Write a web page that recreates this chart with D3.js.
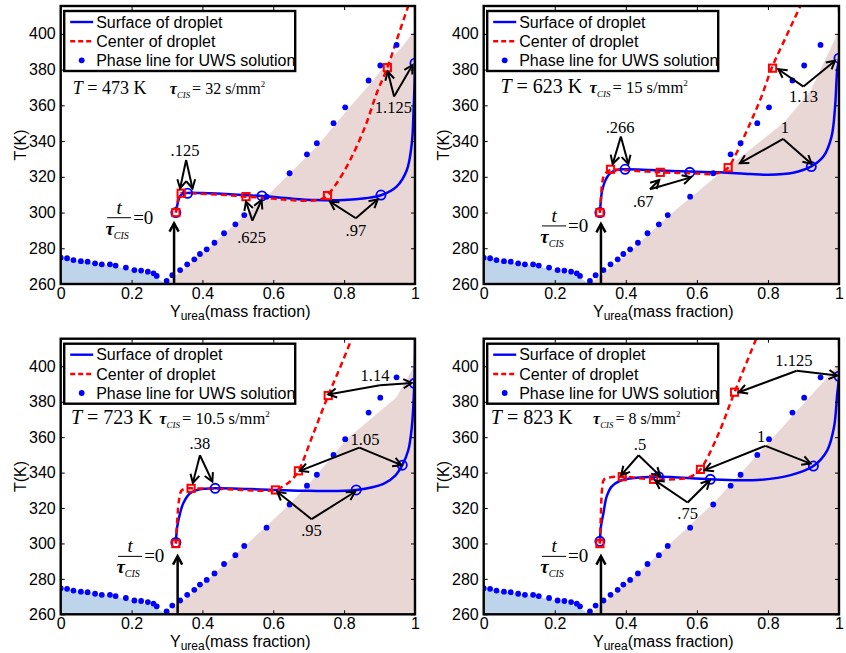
<!DOCTYPE html>
<html>
<head>
<meta charset="utf-8">
<script src="https://cdn.jsdelivr.net/npm/d3@7"></script>
<style>
  body { margin: 0; background: #fff; }
  .sans { font-family: "Liberation Sans", Arial, Helvetica, sans-serif; }
  .serif { font-family: "Liberation Serif", "Times New Roman", serif; }
</style>
</head>
<body>
<svg id="chart" width="846" height="653"></svg>
<script>
// ---------------- Data ----------------
// Phase line of the urea–water solution (same in every case)
const phaseLeftY  = [0, 0.018, 0.036, 0.057, 0.076, 0.097, 0.116, 0.139, 0.155, 0.184, 0.208, 0.227, 0.246, 0.262, 0.271, 0.299];
const phaseLeftT  = [274.7, 274.4, 273.4, 272.8, 272.5, 271.6, 271.0, 271.0, 270.3, 269.2, 267.8, 267.5, 266.9, 266.0, 264.5, 261.7];
const phaseRightY = [0.315, 0.337, 0.357, 0.377, 0.393, 0.412, 0.434, 0.461, 0.493, 0.518, 0.581, 0.646, 0.695, 0.723, 0.770, 0.803, 0.869, 0.902, 0.948];
const phaseRightT = [264.9, 267.8, 271.0, 273.8, 276.8, 279.4, 283.1, 288.4, 293.4, 298.6, 308.9, 322.0, 332.6, 338.8, 350.0, 358.9, 373.9, 382.3, 393.8];

// Ice region (lower left) boundary
const iceY = [0, 0.05, 0.10, 0.15, 0.20, 0.25, 0.28, 0.30];
const iceT = [274.3, 273.0, 271.4, 270.0, 268.0, 265.3, 262.3, 260];

// Solid urea region boundary for each gas temperature
const solid473Y = [0.30, 0.315, 0.357, 0.412, 0.461, 0.518, 0.591, 0.647, 0.723, 0.807, 0.873, 0.92, 0.96, 1.0];
const solid473T = [260, 263, 270, 279, 288, 298, 311, 322, 337, 357, 372, 383.6, 392, 402];
const solid623Y = [0.30, 0.40, 0.52, 0.665, 0.843, 0.92, 1.0];
const solid623T = [260, 276, 298, 322, 350, 368, 402];
const solid723Y = [0.30, 0.40, 0.52, 0.646, 0.723, 0.807, 0.948, 1.0];
const solid723T = [260, 276.8, 298.6, 322, 338.8, 358.8, 382.6, 401];
const solid823Y = [0.30, 0.40, 0.525, 0.647, 0.769, 1.0];
const solid823T = [260, 276.8, 300, 322.7, 349.8, 401];

// Droplet surface / centre temperature paths
const surface473Y = [0.325, 0.329, 0.335, 0.343, 0.358, 0.40, 0.50, 0.568, 0.65, 0.72, 0.80, 0.86, 0.906, 0.948, 0.977, 0.991, 0.996, 1.0, 1.0];
const surface473T = [300, 304, 308.5, 310.5, 311, 310.9, 310, 309.2, 307.8, 307, 307, 308, 309.8, 314.5, 323.8, 338.8, 357.4, 383.6, 418];
const center473Y  = [0.325, 0.329, 0.333, 0.34, 0.36, 0.45, 0.523, 0.60, 0.647, 0.70, 0.735, 0.753, 0.779, 0.817, 0.859, 0.892, 0.922, 0.95, 0.985];
const center473T  = [300, 305, 309, 310.8, 310.8, 310, 308.9, 307.8, 307, 306.6, 307.5, 309.8, 316.4, 329.4, 348, 366.8, 381.1, 397.5, 418];

const surface623Y = [0.327, 0.329, 0.332, 0.337, 0.341, 0.348, 0.356, 0.374, 0.398, 0.47, 0.58, 0.665, 0.75, 0.80, 0.871, 0.921, 0.956, 0.979, 0.989, 0.995, 1.0, 1.0];
const surface623T = [300, 305, 310.8, 315, 317.3, 320, 322, 323.8, 324.2, 323.8, 322.9, 322.5, 321.5, 321.2, 322.3, 325.7, 331.3, 342.5, 359.3, 379.8, 386.4, 418];
const center623Y  = [0.327, 0.329, 0.331, 0.334, 0.341, 0.357, 0.40, 0.497, 0.58, 0.647, 0.671, 0.688, 0.707, 0.75, 0.78, 0.811, 0.85, 0.897];
const center623T  = [300, 305, 311, 317.3, 321.6, 323.8, 323.6, 322.5, 322, 321.6, 322.9, 325.1, 331.5, 350, 364, 381, 398, 418];

const surface723Y = [0.325, 0.329, 0.337, 0.346, 0.365, 0.393, 0.436, 0.52, 0.606, 0.70, 0.834, 0.911, 0.945, 0.964, 0.981, 0.991, 0.998, 1.0];
const surface723T = [300.2, 309.6, 317.1, 322.7, 328.3, 330.6, 331.1, 330.8, 330.2, 329.7, 330.2, 333.6, 338.5, 344.2, 352.6, 365.7, 390.4, 418];
const center723Y  = [0.325, 0.329, 0.334, 0.341, 0.356, 0.368, 0.45, 0.606, 0.628, 0.647, 0.671, 0.713, 0.755, 0.79, 0.826];
const center723T  = [299.9, 313.3, 324.6, 329.8, 331.1, 331.1, 330.8, 330.2, 332.4, 334.9, 341, 362, 383.5, 400, 418];

const surface823Y = [0.327, 0.330, 0.337, 0.346, 0.360, 0.384, 0.412, 0.492, 0.638, 0.77, 0.864, 0.928, 0.967, 0.986, 0.995, 1.0, 1.0];
const surface823T = [300.2, 309.6, 317.1, 326.4, 332.1, 335.4, 336.7, 337.7, 336.2, 335.8, 338.6, 343.7, 352.6, 365.7, 384.5, 394.4, 418];
const center823Y  = [0.327, 0.330, 0.333, 0.339, 0.356, 0.39, 0.478, 0.563, 0.591, 0.61, 0.657, 0.706, 0.772];
const center823T  = [299.9, 317.1, 330.2, 336.2, 337.3, 337.7, 336.2, 336.7, 338.6, 341.8, 360.1, 385.4, 418];

// State at the labelled instants t/tau_CIS (circles: surface, squares: centre)
const surfMark473 = [[0.325, 300], [0.358, 310.8], [0.568, 309.3], [0.904, 309.8], [1.0, 383.6]];
const centMark473 = [[0.325, 300], [0.340, 310.8], [0.523, 308.9], [0.753, 309.5], [0.922, 381.1]];
const surfMark623 = [[0.327, 300], [0.398, 324.2], [0.580, 322.5], [0.922, 325.7], [1.0, 386.4]];
const centMark623 = [[0.327, 300], [0.357, 324.2], [0.497, 322.5], [0.688, 325.1], [0.813, 380.8]];
const surfMark723 = [[0.325, 300.6], [0.436, 331.1], [0.834, 330.2], [0.964, 344.2], [0.998, 390.4]];
const centMark723 = [[0.325, 299.9], [0.368, 331.1], [0.606, 330.2], [0.671, 341.0], [0.755, 383.5]];
const surfMark823 = [[0.327, 301.2], [0.492, 337.7], [0.638, 336.2], [0.928, 343.7], [1.0, 394.4]];
const centMark823 = [[0.327, 299.9], [0.390, 337.7], [0.478, 336.2], [0.610, 341.8], [0.706, 385.4]];

// Time labels with their arrows: label centre, arrow origin, two arrow tips
const timeNotes473 = [
  { text: ".125",  at: [0.351, 334.7], from: [0.354, 329.4], to: [[0.337, 313.5], [0.372, 313.5]] },
  { text: ".625",  at: [0.539, 286.1], from: [0.541, 295.5], to: [[0.523, 306.1], [0.567, 307.0]] },
  { text: ".97",   at: [0.833, 290.2], from: [0.833, 296.8], to: [[0.760, 306.1], [0.895, 307.4]] },
  { text: "1.125", at: [0.939, 358.9], from: [0.941, 364.9], to: [[0.923, 378.9], [0.993, 382.6]] }
];
const timeNotes623 = [
  { text: ".266", at: [0.384, 347.7], from: [0.386, 342.5], to: [[0.363, 327.2], [0.407, 327.2]] },
  { text: ".67",  at: [0.449, 306.6], from: [0.468, 313.0], to: [[0.494, 318.2], [0.583, 319.7]] },
  { text: "1",    at: [0.848, 348.0], from: [0.843, 341.2], to: [[0.721, 327.6], [0.923, 327.2]] },
  { text: "1.13", at: [0.900, 364.9], from: [0.900, 370.5], to: [[0.829, 380.2], [0.989, 385.0]] }
];
const timeNotes723 = [
  { text: ".38",  at: [0.393, 356.4], from: [0.393, 349.8], to: [[0.373, 334.2], [0.428, 334.9]] },
  { text: ".95",  at: [0.708, 307.2], from: [0.708, 313.7], to: [[0.611, 329.2], [0.831, 329.2]] },
  { text: "1.05", at: [0.859, 358.8], from: [0.843, 354.1], to: [[0.675, 341.0], [0.962, 344.2]] },
  { text: "1.14", at: [0.887, 394.9], from: [0.901, 389.3], to: [[0.755, 384.1], [0.991, 390.6]] }
];
const timeNotes823 = [
  { text: ".5",    at: [0.440, 355.9], from: [0.436, 349.8], to: [[0.387, 338.6], [0.497, 338.0]] },
  { text: ".75",   at: [0.574, 317.1], from: [0.574, 323.1], to: [[0.483, 335.5], [0.636, 335.5]] },
  { text: "1",     at: [0.781, 360.5], from: [0.793, 355.1], to: [[0.622, 341.4], [0.920, 345.1]] },
  { text: "1.125", at: [0.873, 403.7], from: [0.881, 397.5], to: [[0.718, 385.4], [0.995, 394.8]] }
];

// Case parameters
const gasTemps = ["473", "623", "723", "823"];
const tauValues = ["32", "15", "10.5", "8"];

// Axis ticks
const xTicks = [0, 0.2, 0.4, 0.6, 0.8, 1];
const xTickLabels = ["0", "0.2", "0.4", "0.6", "0.8", "1"];
const yTicks = [260, 280, 300, 320, 340, 360, 380, 400];
const yDomain = [260, 415.6];

const legendLabels = ["Surface of droplet", "Center of droplet", "Phase line for UWS solution"];

// ---------------- Layout ----------------
const layout = [
  { x: 60.7,  y: 6,     w: 354.3, h: 278,   tFont: 18, tauFont: 16, tAt: [0.034, 366.2], tauAt: [0.308, 366.2], zeroAt: [0.165, 297.1], arrowZero: [0.320, 294.0] },
  { x: 483.7, y: 6,     w: 355.3, h: 278,   tFont: 20, tauFont: 16.5, tAt: [0.047, 366.8], tauAt: [0.298, 366.8], zeroAt: [0.198, 292.5], arrowZero: [0.330, 293.6] },
  { x: 60.7,  y: 338.7, w: 354.3, h: 275.6, tFont: 20, tauFont: 16.5, tAt: [0.029, 367.2], tauAt: [0.278, 367.2], zeroAt: [0.196, 292.7], arrowZero: [0.330, 292.8] },
  { x: 483.7, y: 338.7, w: 355.3, h: 275.6, tFont: 20, tauFont: 16, tAt: [0.020, 367.2], tauAt: [0.308, 367.2], zeroAt: [0.198, 292.7], arrowZero: [0.330, 292.8] }
];

const cases = [
  { solidY: solid473Y, solidT: solid473T, sY: surface473Y, sT: surface473T, cY: center473Y, cT: center473T, sM: surfMark473, cM: centMark473, notes: timeNotes473 },
  { solidY: solid623Y, solidT: solid623T, sY: surface623Y, sT: surface623T, cY: center623Y, cT: center623T, sM: surfMark623, cM: centMark623, notes: timeNotes623 },
  { solidY: solid723Y, solidT: solid723T, sY: surface723Y, sT: surface723T, cY: center723Y, cT: center723T, sM: surfMark723, cM: centMark723, notes: timeNotes723 },
  { solidY: solid823Y, solidT: solid823T, sY: surface823Y, sT: surface823T, cY: center823Y, cT: center823T, sM: surfMark823, cM: centMark823, notes: timeNotes823 }
];

const zip = (a, b) => a.map((v, i) => [v, b[i]]);

const BLUE = "#0000ff", RED = "#ff0000";
const ICE_FILL = "#bed4eb", SOLID_FILL = "#e9d7d5";

const svg = d3.select("#chart");

function drawArrow(g, x0, y0, x1, y1, width) {
  // shaft plus open chevron head at (x1, y1)
  const ang = Math.atan2(y1 - y0, x1 - x0);
  const L = 9.5, spread = 0.5;
  g.append("line").attr("x1", x0).attr("y1", y0).attr("x2", x1).attr("y2", y1)
    .attr("stroke", "#000").attr("stroke-width", width);
  const hx1 = x1 - L * Math.cos(ang - spread), hy1 = y1 - L * Math.sin(ang - spread);
  const hx2 = x1 - L * Math.cos(ang + spread), hy2 = y1 - L * Math.sin(ang + spread);
  g.append("path").attr("d", `M${hx1},${hy1}L${x1},${y1}L${hx2},${hy2}`)
    .attr("fill", "none").attr("stroke", "#000").attr("stroke-width", width)
    .attr("stroke-linejoin", "miter");
}

cases.forEach((c, i) => {
  const L = layout[i];
  const g = svg.append("g").attr("transform", `translate(${L.x},${L.y})`);
  const x = d3.scaleLinear().domain([0, 1]).range([0, L.w]);
  const y = d3.scaleLinear().domain(yDomain).range([L.h, 0]);

  const clipId = "clip" + i;
  g.append("clipPath").attr("id", clipId).append("rect")
    .attr("width", L.w).attr("height", L.h);
  const plot = g.append("g").attr("clip-path", `url(#${clipId})`);

  // phase regions
  const area = d3.area().x(d => x(d[0])).y0(y(260)).y1(d => y(d[1]));
  plot.append("path").datum(zip(iceY, iceT)).attr("d", area).attr("fill", ICE_FILL);
  plot.append("path").datum(zip(c.solidY, c.solidT)).attr("d", area).attr("fill", SOLID_FILL);

  const line = d3.line().x(d => x(d[0])).y(d => y(d[1])).curve(d3.curveCatmullRom.alpha(0.5));

  plot.append("path").datum(zip(c.sY, c.sT)).attr("d", line)
    .attr("fill", "none").attr("stroke", BLUE).attr("stroke-width", 2.5);
  plot.append("path").datum(zip(c.cY, c.cT)).attr("d", line)
    .attr("fill", "none").attr("stroke", RED).attr("stroke-width", 2.5)
    .attr("stroke-dasharray", "6,4");

  // phase line dots
  const dots = zip(phaseLeftY, phaseLeftT).concat(zip(phaseRightY, phaseRightT));
  plot.selectAll("circle.phase").data(dots).enter().append("circle")
    .attr("class", "phase").attr("cx", d => x(d[0])).attr("cy", d => y(d[1]))
    .attr("r", 2.9).attr("fill", BLUE);

  // markers
  plot.selectAll("circle.smark").data(c.sM).enter().append("circle")
    .attr("class", "smark").attr("cx", d => x(d[0])).attr("cy", d => y(d[1]))
    .attr("r", 4.6).attr("fill", "none").attr("stroke", BLUE).attr("stroke-width", 1.8);
  plot.selectAll("rect.cmark").data(c.cM).enter().append("rect")
    .attr("class", "cmark").attr("x", d => x(d[0]) - 3.6).attr("y", d => y(d[1]) - 3.6)
    .attr("width", 7.2).attr("height", 7.2)
    .attr("fill", "none").attr("stroke", RED).attr("stroke-width", 2);

  // axes with inward ticks on all four sides
  const axL = d3.axisLeft(y).tickValues(yTicks).tickSize(-4).tickPadding(5);
  const axR = d3.axisRight(y).tickValues(yTicks).tickSize(-4).tickFormat("");
  const axB = d3.axisBottom(x).tickValues(xTicks).tickSize(-4).tickPadding(3.5)
    .tickFormat((d, k) => xTickLabels[k]);
  const axT = d3.axisTop(x).tickValues(xTicks).tickSize(-4).tickFormat("");
  const styleAxis = sel => {
    sel.select(".domain").remove();
    sel.selectAll(".tick line").attr("stroke", "#000").attr("stroke-width", 1);
    sel.selectAll(".tick text").attr("class", "sans").attr("font-size", 16).attr("fill", "#000");
  };
  g.append("g").call(axL).call(styleAxis);
  g.append("g").attr("transform", `translate(${L.w},0)`).call(axR).call(styleAxis);
  g.append("g").attr("transform", `translate(0,${L.h})`).call(axB).call(styleAxis);
  g.append("g").call(axT).call(styleAxis);
  g.append("rect").attr("width", L.w).attr("height", L.h)
    .attr("fill", "none").attr("stroke", "#000").attr("stroke-width", 2.4);

  // axis titles
  g.append("text").attr("class", "sans").attr("font-size", 16)
    .attr("transform", `translate(-40.7,${L.h / 2}) rotate(-90)`)
    .attr("text-anchor", "middle").attr("dy", "0.35em").text("T(K)");
  const xl = g.append("text").attr("class", "sans").attr("font-size", 16)
    .attr("x", 109.3).attr("y", L.h + 33);
  xl.append("tspan").text("Y");
  xl.append("tspan").attr("font-size", 12).attr("dy", 3).text("urea");
  xl.append("tspan").attr("dy", -3).text("(mass fraction)");

  // annotations: time labels and arrows
  const ann = g.append("g");
  c.notes.forEach(n => {
    ann.append("text").attr("class", "serif").attr("font-size", 16.5)
      .attr("x", x(n.at[0])).attr("y", y(n.at[1])).attr("dy", "0.35em")
      .attr("text-anchor", "middle").text(n.text);
    n.to.forEach(t => drawArrow(ann, x(n.from[0]), y(n.from[1]), x(t[0]), y(t[1]), 2));
  });

  // t / tau_CIS = 0 with upward arrow
  drawArrow(ann, x(L.arrowZero[0]), y(260), x(L.arrowZero[0]), y(L.arrowZero[1]), 2.5);
  const zx = x(L.zeroAt[0]), zy = y(L.zeroAt[1]);
  ann.append("line").attr("x1", zx - 12).attr("x2", zx + 12).attr("y1", zy).attr("y2", zy)
    .attr("stroke", "#000").attr("stroke-width", 1);
  ann.append("text").attr("class", "serif").attr("font-size", 19).attr("font-style", "italic")
    .attr("x", zx).attr("y", zy - 4).attr("text-anchor", "middle").text("t");
  const den = ann.append("text").attr("class", "serif").attr("font-size", 19)
    .attr("x", zx - 2).attr("y", zy + 17).attr("text-anchor", "middle");
  den.append("tspan").attr("font-style", "italic").attr("font-weight", "bold").text("τ");
  den.append("tspan").attr("font-style", "italic").attr("font-size", 10).attr("dy", 4).text("CIS");
  ann.append("text").attr("class", "serif").attr("font-size", 19)
    .attr("x", zx + 14).attr("y", zy + 6).text("=0");

  // case label
  const tl = ann.append("text").attr("class", "serif").attr("font-size", L.tFont)
    .attr("x", x(L.tAt[0])).attr("y", y(L.tAt[1]));
  tl.append("tspan").attr("font-style", "italic").text("T");
  tl.append("tspan").text(" = " + gasTemps[i] + " K");
  const tau = ann.append("text").attr("class", "serif").attr("font-size", L.tauFont)
    .attr("x", x(L.tauAt[0])).attr("y", y(L.tauAt[1]));
  tau.append("tspan").attr("font-style", "italic").attr("font-weight", "bold").text("τ");
  tau.append("tspan").attr("font-style", "italic").attr("font-size", L.tauFont * 0.55).attr("dy", 4).text("CIS");
  tau.append("tspan").attr("dy", -4).attr("dx", 2).text("= " + tauValues[i] + " s/mm");
  tau.append("tspan").attr("font-size", L.tauFont * 0.55).attr("dy", -7).text("2");

  // legend
  const lg = g.append("g").attr("transform", "translate(3.5,5)");
  lg.append("rect").attr("width", 231).attr("height", 60)
    .attr("fill", "#fff").attr("stroke", "#000").attr("stroke-width", 2.4);
  const rows = [11, 30.3, 49.3];
  lg.append("line").attr("x1", 6).attr("x2", 29).attr("y1", rows[0]).attr("y2", rows[0])
    .attr("stroke", BLUE).attr("stroke-width", 2.4);
  lg.append("line").attr("x1", 6).attr("x2", 29).attr("y1", rows[1]).attr("y2", rows[1])
    .attr("stroke", RED).attr("stroke-width", 2.4).attr("stroke-dasharray", "5,3");
  lg.append("circle").attr("cx", 17.5).attr("cy", rows[2]).attr("r", 2.9).attr("fill", BLUE);
  legendLabels.forEach((t, k) => {
    lg.append("text").attr("class", "sans").attr("font-size", 16)
      .attr("x", 32).attr("y", rows[k]).attr("dy", "0.35em").text(t);
  });
});
</script>
</body>
</html>
